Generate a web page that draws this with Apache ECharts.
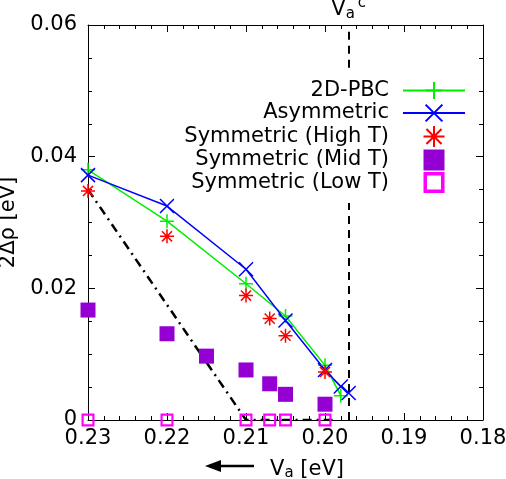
<!DOCTYPE html>
<html>
<head>
<meta charset="utf-8">
<script src="https://cdn.jsdelivr.net/npm/echarts@6/dist/echarts.min.js"></script>
<style>
html, body { margin: 0; padding: 0; background: #fff; }
#chart { width: 506px; height: 479px; }
</style>
</head>
<body>
<div id="chart"></div>
<script>
var log = console.log.bind(console)

// data, x = V_a [eV], y = 2Δρ [eV]
var xTicks = [0.18, 0.19, 0.20, 0.21, 0.22, 0.23]
var yTicks = [0, 0.02, 0.04, 0.06]

var pbcX = [0.23, 0.22, 0.21, 0.205, 0.200, 0.198]
var pbcY = [0.038, 0.0302, 0.0207, 0.0158, 0.0083, 0.0037]

var asymX = [0.23, 0.22, 0.21, 0.205, 0.200, 0.198, 0.197]
var asymY = [0.0372, 0.0325, 0.0229, 0.0151, 0.0076, 0.0051, 0.0041]

var highX = [0.23, 0.22, 0.21, 0.207, 0.205, 0.200]
var highY = [0.0348, 0.0279, 0.0189, 0.0154, 0.0128, 0.0073]

var midX = [0.23, 0.22, 0.215, 0.21, 0.207, 0.205, 0.200]
var midY = [0.0167, 0.0131, 0.0097, 0.0076, 0.0055, 0.0039, 0.0024]

var lowX = [0.23, 0.22, 0.21, 0.207, 0.205, 0.200]
var lowY = [0, 0, 0, 0, 0, 0]

var guideX = [0.23, 0.21, 0.1985]
var guideY = [0.035, 0, 0]

// V_a^c dashed line, broken where the key box sits
var criticalV = 0.197
var criticalLow = [0, 0.0334]
var criticalHigh = [0.0535, 0.06]

var names = ['2D-PBC', 'Asymmetric', 'Symmetric (High T)', 'Symmetric (Mid T)', 'Symmetric (Low T)']

var pairs = function(xs, ys) {
    var r = []
    for (var i = 0; i < xs.length; i++) {
        r.push([xs[i], ys[i]])
    }
    return r
}

var font = 'DejaVu Sans'
var plusPath = 'path://M0,-1L0,1M-1,0L1,0'
var crossPath = 'path://M-1,-1L1,1M-1,1L1,-1'
var starPath = 'path://M0,-1L0,1M-1,0L1,0M-0.72,-0.72L0.72,0.72M-0.72,0.72L0.72,-0.72'
var squarePath = 'path://M0,0h10v10h-10z'
var openSquarePath = 'path://M0,0h12v12h-12zM2,2v8h8v-8z'

var baseX = function(pos, labels) {
    return {
        type: 'value',
        position: pos,
        min: xTicks[0],
        max: xTicks[xTicks.length - 1],
        interval: 0.01,
        inverse: true,
        axisLine: { onZero: false, lineStyle: { color: '#000', width: 1 } },
        axisTick: { inside: true, length: 7, lineStyle: { color: '#000' } },
        minorTick: { show: true, splitNumber: 5, length: 4, lineStyle: { color: '#000' } },
        splitLine: { show: false },
        axisLabel: {
            show: labels,
            margin: 8,
            color: '#000',
            fontFamily: font,
            fontSize: 21,
            formatter: (v) => v.toFixed(2),
        },
    }
}

var baseY = function(pos, labels) {
    return {
        type: 'value',
        position: pos,
        min: yTicks[0],
        max: yTicks[yTicks.length - 1],
        interval: 0.02,
        axisLine: { onZero: false, lineStyle: { color: '#000', width: 1 } },
        axisTick: { inside: true, length: 7, lineStyle: { color: '#000' } },
        minorTick: { show: true, splitNumber: 4, length: 4, lineStyle: { color: '#000' } },
        splitLine: { show: false },
        axisLabel: {
            show: labels,
            margin: 11,
            color: '#000',
            fontFamily: font,
            fontSize: 21,
            formatter: (v) => v === 0 ? '0' : v.toFixed(2),
        },
    }
}

var xMain = baseX('bottom', true)
xMain.name = '{v|V}{s|a}{v| [eV]}'
xMain.nameLocation = 'middle'
xMain.nameGap = 38
xMain.nameTextStyle = {
    padding: [0, 0, 0, 43],
    rich: {
        v: { fontFamily: font, fontSize: 21, color: '#000' },
        s: { fontFamily: font, fontSize: 15, color: '#000', verticalAlign: 'bottom', padding: [8, 0, 0, 0] },
    },
}

var yMain = baseY('left', true)
yMain.name = '2Δρ [eV]'
yMain.nameLocation = 'middle'
yMain.nameGap = 64
yMain.nameTextStyle = { fontFamily: font, fontSize: 21, color: '#000' }

var option = {
    animation: false,
    backgroundColor: '#fff',
    textStyle: { fontFamily: font },
    grid: { left: 88, right: 23, top: 25, bottom: 59, containLabel: false, outerBoundsMode: 'none' },
    legend: {
        orient: 'vertical',
        align: 'right',
        right: 30,
        top: 70,
        padding: 10,
        itemGap: 1.5,
        itemWidth: 62,
        itemHeight: 21,
        backgroundColor: '#fff',
        z: 6,
        data: names,
        textStyle: { fontFamily: font, fontSize: 21, lineHeight: 21, color: '#000', padding: [0, 9, 0, 0] },
    },
    xAxis: [xMain, baseX('top', false)],
    yAxis: [yMain, baseY('right', false)],
    graphic: [
        {
            type: 'group',
            left: 205,
            top: 460,
            children: [
                { type: 'line', shape: { x1: 10, y1: 7, x2: 49, y2: 7 }, style: { stroke: '#000', lineWidth: 2.5 } },
                { type: 'polygon', shape: { points: [[0, 7], [16, 1], [16, 13]] }, style: { fill: '#000' } },
            ],
        },
    ],
    series: [
        {
            name: 'guide',
            type: 'line',
            data: pairs(guideX, guideY),
            symbol: 'none',
            lineStyle: { color: '#000', width: 2.5, type: [9, 5, 2, 5] },
            z: 1,
            markLine: {
                silent: true,
                symbol: 'none',
                precision: 4,
                z: 2,
                lineStyle: { color: '#000', width: 2, type: [8, 6] },
                label: { show: false },
                data: [
                    [{ coord: [criticalV, criticalLow[0]] }, { coord: [criticalV, criticalLow[1]] }],
                    [
                        { coord: [criticalV, criticalHigh[0]] },
                        {
                            coord: [criticalV, criticalHigh[1]],
                            label: {
                                show: true,
                                position: 'end',
                                distance: 2,
                                formatter: '{v|V}{s|a}{p|c}',
                                rich: {
                                    v: { fontFamily: font, fontSize: 21, color: '#000' },
                                    s: { fontFamily: font, fontSize: 15, color: '#000', padding: [10, 0, 0, 0] },
                                    p: { fontFamily: font, fontSize: 15, color: '#000', padding: [0, 0, 12, 3] },
                                },
                            },
                        },
                    ],
                ],
            },
        },
        {
            name: names[0],
            type: 'line',
            data: pairs(pbcX, pbcY),
            symbol: plusPath,
            symbolSize: 14,
            itemStyle: { color: '#00ee00', borderColor: '#00ee00', borderWidth: 1.5 },
            lineStyle: { color: '#00ee00', width: 1.5 },
            z: 3,
        },
        {
            name: names[1],
            type: 'line',
            data: pairs(asymX, asymY),
            symbol: crossPath,
            symbolSize: 14,
            itemStyle: { color: '#0000ff', borderColor: '#0000ff', borderWidth: 1.5 },
            lineStyle: { color: '#0000ff', width: 1.5 },
            z: 3,
        },
        {
            name: names[2],
            type: 'scatter',
            data: pairs(highX, highY),
            symbol: starPath,
            symbolSize: 14,
            itemStyle: { color: '#ff0000', borderColor: '#ff0000', borderWidth: 1.5, opacity: 1 },
            z: 3,
        },
        {
            name: names[3],
            type: 'scatter',
            data: pairs(midX, midY),
            symbol: squarePath,
            symbolSize: 15,
            itemStyle: { color: '#9400d3', opacity: 1 },
            z: 3,
        },
        {
            name: names[4],
            type: 'scatter',
            data: pairs(lowX, lowY),
            symbol: openSquarePath,
            symbolSize: 13,
            itemStyle: { color: '#ff00ff', opacity: 1 },
            z: 3,
        },
    ],
}

var chart = echarts.init(document.getElementById('chart'), null, { renderer: 'canvas' })
chart.setOption(option)
</script>
</body>
</html>
